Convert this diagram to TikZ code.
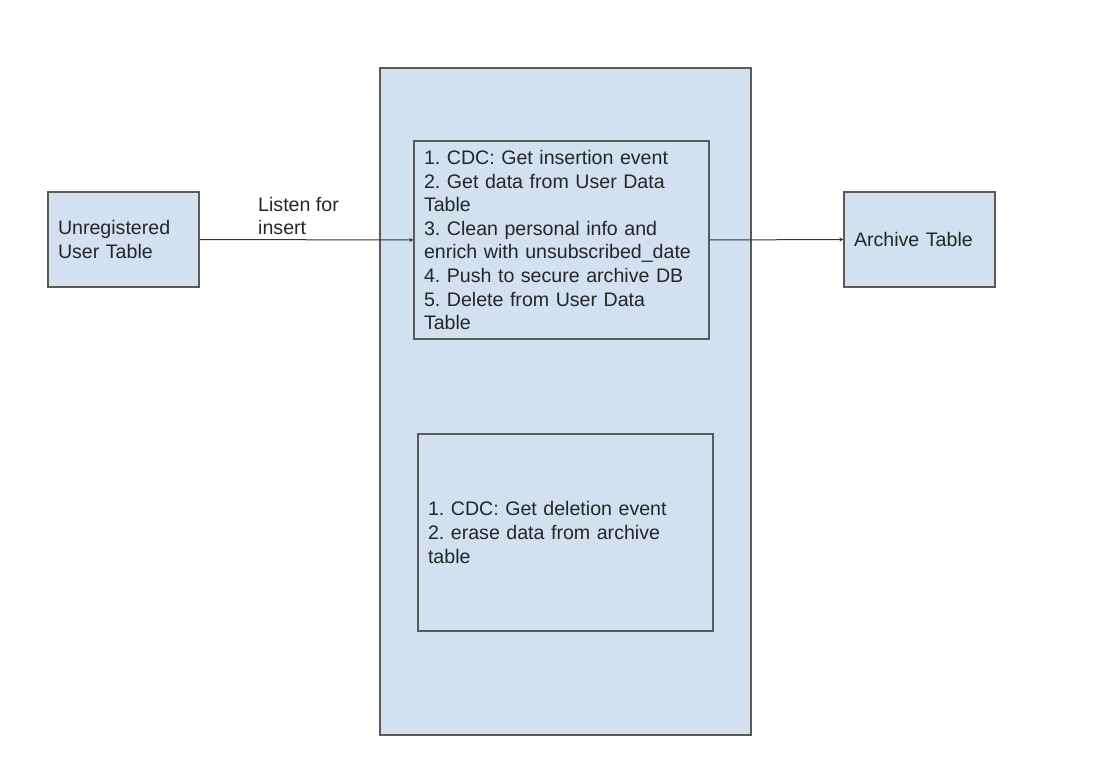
\documentclass[tikz,border=0pt]{standalone}
\usepackage{fontspec}
\setmainfont{Liberation Sans}
\usetikzlibrary{arrows.meta}
\definecolor{boxfill}{HTML}{D2E0F0}
\definecolor{boxline}{HTML}{5A5A5A}
\definecolor{arrowline}{HTML}{333333}
\frenchspacing
\begin{document}
\begin{tikzpicture}[x=1pt,y=-1pt,
  every node/.style={font=\fontsize{19.6}{23.6}\selectfont, text=black!85},
  tablebox/.style={draw=boxline, fill=boxfill, line width=1.3pt, inner xsep=10pt, inner ysep=0pt, align=left},
  flow/.style={draw=arrowline, line width=1pt, -{Stealth[length=4pt,width=4pt]}}
]
\useasboundingbox (0,0) rectangle (1102,770);
\node[draw=boxline, fill=boxfill, line width=1.3pt, minimum width=371pt, minimum height=667pt, inner sep=0pt] (container) at (565.5,401.5) {};
\node[tablebox, minimum width=151pt, minimum height=95pt, text width=131pt] (unreg) at (123.5,239.5) {Unregistered\\User Table};
\node[tablebox, minimum width=151pt, minimum height=95pt, text width=131pt] (archive) at (919.5,239.5) {Archive Table};
\node[tablebox, minimum width=295pt, minimum height=198pt, text width=275pt] (insertproc) at (561.5,240) {1. CDC: Get insertion event\\2. Get data from User Data\\Table\\3. Clean personal info and\\enrich with unsubscribed\_date\\4. Push to secure archive DB\\5. Delete from User Data\\Table};
\node[tablebox, minimum width=295pt, minimum height=197pt, text width=275pt] (deleteproc) at (565.5,532.5) {1. CDC: Get deletion event\\2. erase data from archive\\table};
\node[anchor=south west, inner sep=0pt, align=left] (listenlbl) at (258,235) {Listen for\\insert};
\draw[flow] (unreg.east) -- (insertproc.west);
\draw[flow] (insertproc.east) -- (archive.west);
\end{tikzpicture}
\end{document}
